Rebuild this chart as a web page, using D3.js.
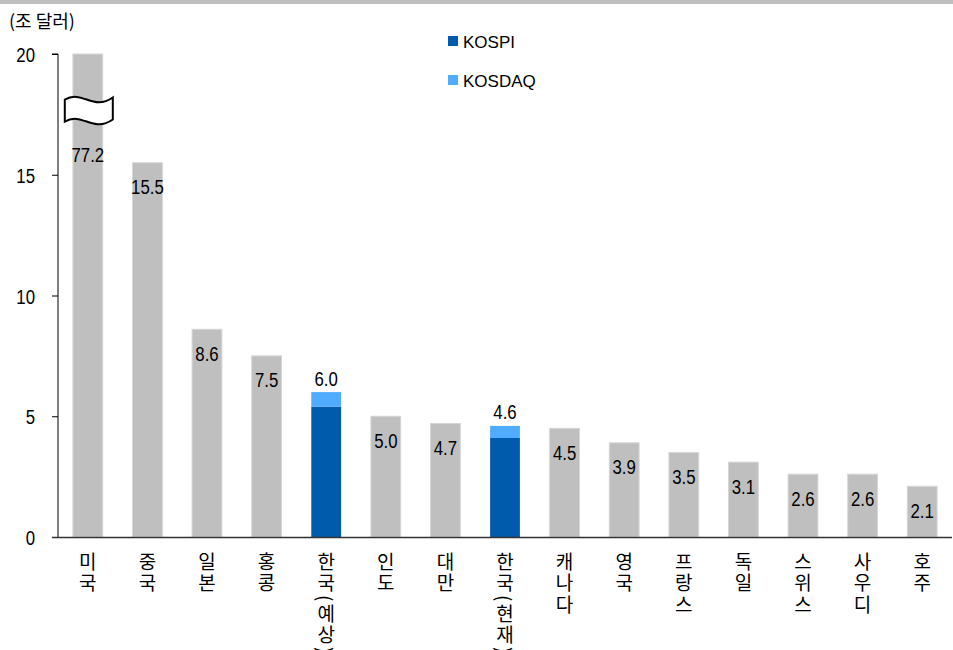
<!DOCTYPE html>
<html><head><meta charset="utf-8">
<script src="https://cdn.jsdelivr.net/npm/d3@7"></script>
<style>
body{margin:0;background:#fff;}
svg{display:block;}
.num{font-family:"Liberation Sans",Arial,sans-serif;}
.kr{font-family:"Noto Sans CJK KR","Noto Sans",sans-serif;}
.vert{writing-mode:vertical-rl;text-orientation:mixed;}
</style></head>
<body>
<svg id="c" width="953" height="650"></svg>
<script>
const categories = ['미국','중국','일본','홍콩','한국(예상)','인도','대만','한국(현재)','캐나다','영국','프랑스','독일','스위스','사우디','호주'];
const totals = [77.2,15.5,8.6,7.5,6.0,5.0,4.7,4.6,4.5,3.9,3.5,3.1,2.6,2.6,2.1];
const kospi  = [null,null,null,null,5.4,null,null,4.1,null,null,null,null,null,null,null];
const kosdaq = [null,null,null,null,0.6,null,null,0.5,null,null,null,null,null,null,null];
const yTicks = [0,5,10,15,20];
const legendLabels = ['KOSPI','KOSDAQ'];
const unitLabel = '(조 달러)';
const yMax = 20;
const breakValue = 17.7;

(function(){
const colors = {gray:'#bfbfbf', kospi:'#005bac', kosdaq:'#4facff'};
const NARROW = 0.8, NUMSIZE = 21;

const svg = d3.select('#c');
const W = 953, H = 650;
const mL = 58, mR = 952, mT = 54, mB = 537;

const x = d3.scaleBand().domain(categories).range([mL, mR]).paddingInner(0.5).paddingOuter(0.25);
const y = d3.scaleLinear().domain([0, yMax]).range([mB, mT]);

svg.append('rect').attr('x',0).attr('y',0).attr('width',W).attr('height',4).attr('fill','#bfbfbf');

svg.append('text').attr('class','kr').attr('x',9).attr('y',28).attr('font-size',18).attr('fill','#000').text(unitLabel);

const data = categories.map((c,i)=>({c, total: totals[i], kospi: kospi[i], kosdaq: kosdaq[i]}));

const grayData = data.filter(d=>d.kospi==null);
svg.append('g').selectAll('rect').data(grayData).join('rect')
  .attr('x', d=>x(d.c)).attr('width', x.bandwidth())
  .attr('y', d=>y(Math.min(d.total, yMax)))
  .attr('height', d=>y(0)-y(Math.min(d.total, yMax)))
  .attr('fill', colors.gray).attr('stroke','#d6d6d6').attr('stroke-width',1);

const korData = data.filter(d=>d.kospi!=null);
svg.append('g').selectAll('rect').data(korData).join('rect')
  .attr('x', d=>x(d.c)).attr('width', x.bandwidth())
  .attr('y', d=>y(d.kospi)).attr('height', d=>y(0)-y(d.kospi))
  .attr('fill', colors.kospi);
svg.append('g').selectAll('rect').data(korData).join('rect')
  .attr('x', d=>x(d.c)).attr('width', x.bandwidth())
  .attr('y', d=>y(d.kospi+d.kosdaq)).attr('height', d=>y(d.kospi)-y(d.kospi+d.kosdaq))
  .attr('fill', colors.kosdaq);

data.filter(d=>d.total>yMax).forEach(d=>{
  const cx = x(d.c) + x.bandwidth()/2;
  const cy = y(breakValue);
  const w = 48, h = 22;
  const l = cx - w/2 + 1, r = cx + w/2 + 1;
  const t = cy - h/2 - 1;
  const p = d3.path();
  p.moveTo(l, t+2);
  p.bezierCurveTo(l+18, t-8, l+28, t+14, r, t);
  p.lineTo(r, t+h);
  p.bezierCurveTo(l+28, t+14+h, l+18, t-8+h, l, t+2+h);
  p.closePath();
  svg.append('path').attr('d', p.toString()).attr('fill','#fff').attr('stroke','#000').attr('stroke-width',2);
});

svg.append('g').selectAll('text').data(data).join('text')
  .attr('class','num').attr('font-size',NUMSIZE).attr('text-anchor','middle').attr('fill','#000')
  .attr('transform', d=>{
    let cy;
    if (d.total>yMax) cy = y(breakValue)+45;
    else if (d.kospi!=null) cy = y(d.total)-14;
    else cy = y(d.total)+24;
    return `translate(${x(d.c)+x.bandwidth()/2},${cy+7.5}) scale(${NARROW},1)`;
  })
  .text(d=>d.total.toFixed(1));

const yAxis = d3.axisLeft(y).tickValues(yTicks).tickSize(6).tickFormat(d3.format('d'));
const gy = svg.append('g').attr('transform',`translate(${mL},0)`).call(yAxis);
gy.attr('font-family',null).attr('font-size',null);
gy.select('.domain').attr('stroke','#000').attr('d',`M-6,${mT}H0V${mB}`);
gy.selectAll('.tick line').attr('stroke','#000');
gy.selectAll('.tick text').attr('class','num').attr('font-size',NUMSIZE).attr('fill','#000')
  .attr('x',0).attr('dy',null).attr('y',7.5)
  .attr('transform',`translate(-23,0) scale(${NARROW},1)`);

svg.append('line').attr('x1',mL-6).attr('x2',mR).attr('y1',mB+0.5).attr('y2',mB+0.5)
  .attr('stroke','#333').attr('stroke-width',1.5);

svg.append('g').selectAll('text').data(categories).join('text')
  .attr('class','kr vert').attr('font-size',19).attr('fill','#000')
  .attr('letter-spacing',2.5)
  .attr('x', d=>x(d)+x.bandwidth()/2).attr('y', mB+15)
  .text(d=>d);

const lg = svg.append('g');
legendLabels.forEach((lab,i)=>{
  const col = i===0?colors.kospi:colors.kosdaq;
  lg.append('rect').attr('x',448).attr('y',36+i*39).attr('width',10).attr('height',10).attr('fill',col);
  lg.append('text').attr('x',463).attr('y',48+i*39).attr('font-size',17).attr('fill','#000')
    .attr('font-family','"Liberation Sans",Arial,sans-serif').text(lab);
});
})();
</script>
</body></html>
